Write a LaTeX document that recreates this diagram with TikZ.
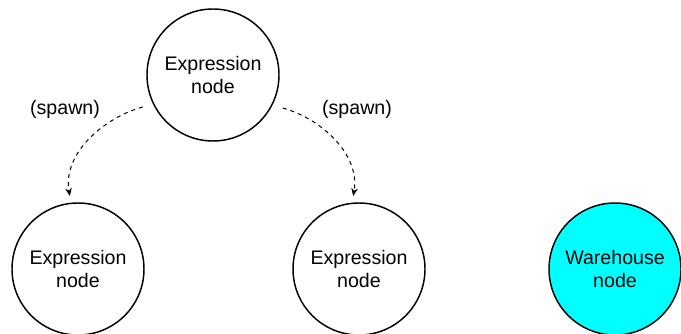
\documentclass[tikz,border=0pt]{standalone}
\usepackage{fontspec}
\setmainfont{Liberation Sans}
\usetikzlibrary{positioning,arrows.meta}
\definecolor{warecyan}{RGB}{0,255,255}
\tikzset{
  exprnode/.style={circle, draw, line width=1.1pt, minimum size=99pt, inner sep=0pt, align=center},
  spawnarrow/.style={-{Stealth[length=6pt,width=5pt]}, line width=0.75pt, dash pattern=on 3pt off 3pt, shorten <=8pt, shorten >=5pt}
}
\begin{document}
\begin{tikzpicture}[x=0.75pt, y=0.75pt, on grid, font=\fontsize{14.7}{17.2}\selectfont]
    \useasboundingbox (0,0) rectangle (681,-334);
    \node(Top)  [exprnode] at (213,-75)                      {Expression\\node};
    \node(Left) [exprnode, below left=145.5pt and 101.25pt of Top] {Expression\\node};
    \node(Mid)  [exprnode, right=210.75pt of Left]            {Expression\\node};
    \node(Ware) [exprnode, fill=warecyan, right=192pt of Mid] {Warehouse\\node};
    \node(spawnL) at (65,-109)  {(spawn)};
    \node(spawnR) at (357,-109) {(spawn)};
    \draw[spawnarrow](Top.206)  to[out=195, in=100] (Left.96);
    \draw[spawnarrow](Top.-27)  to[out=-15, in=80]  (Mid.96);
  \end{tikzpicture}
\end{document}
